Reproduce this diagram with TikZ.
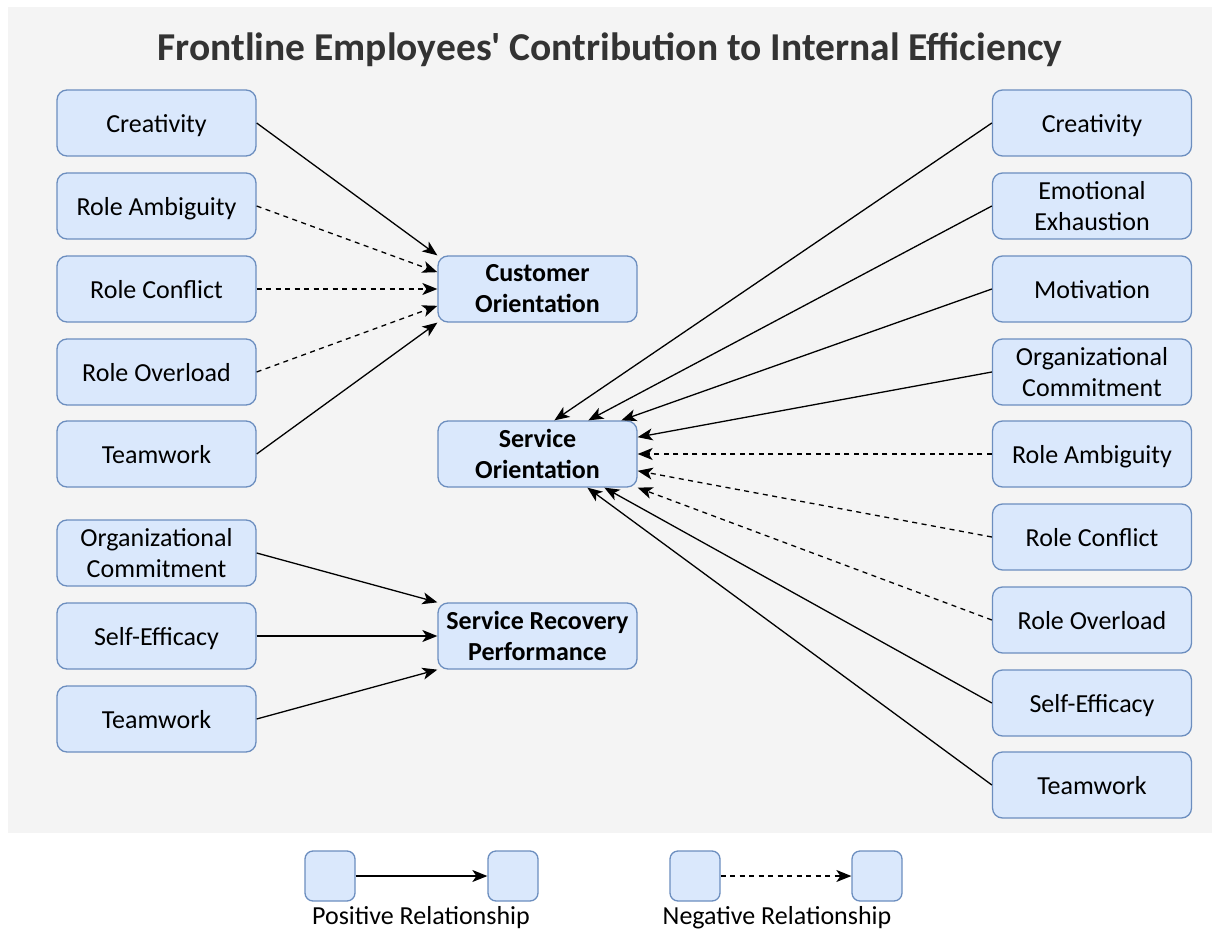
\documentclass[tikz,border=0pt]{standalone}
\usepackage{fontspec}
\setmainfont{Carlito}
\usetikzlibrary{arrows.meta,calc}
\definecolor{panel}{HTML}{F4F4F4}
\definecolor{boxfill}{HTML}{DAE8FC}
\definecolor{boxdraw}{HTML}{6C8EBF}
\definecolor{titlecol}{HTML}{333333}
\tikzset{
  box/.style={draw=boxdraw, fill=boxfill, line width=1.3pt, rounded corners=10pt,
    minimum width=199pt, minimum height=66pt, align=center, inner sep=2pt,
    font=\fontsize{26}{31}\selectfont},
  single/.style={box, text height=19pt, text depth=0pt},
  midbox/.style={box, font=\fontsize{26}{31}\selectfont\bfseries},
  legbox/.style={draw=boxdraw, fill=boxfill, line width=1.3pt, rounded corners=8pt,
    minimum width=50pt, minimum height=50pt, inner sep=0pt},
  posarrow/.style={line width=1.3pt, -{Stealth[length=15pt,width=12pt,inset=4pt]}},
  negarrow/.style={posarrow, dash pattern=on 5pt off 4.5pt},
  leglabel/.style={font=\fontsize{26}{30}\selectfont, inner sep=0pt}
}
\begin{document}
\begin{tikzpicture}[x=1pt,y=-1pt]
\useasboundingbox (0,0) rectangle (1212,933);
\fill[panel] (8,7) rectangle (1212,833);
\node[font=\fontsize{39.5}{44}\selectfont\bfseries, text=titlecol] (title) at (610,50) {Frontline Employees\textquotesingle\ Contribution to Internal Efficiency};

% left column
\node[single] (l1) at (156.5,123) {Creativity};
\node[single] (l2) at (156.5,206) {Role Ambiguity};
\node[single] (l3) at (156.5,289) {Role Conflict};
\node[single] (l4) at (156.5,372) {Role Overload};
\node[single] (l5) at (156.5,454) {Teamwork};
\node[box] (l6) at (156.5,553) {Organizational\\Commitment};
\node[single] (l7) at (156.5,636) {Self-Efficacy};
\node[single] (l8) at (156.5,719) {Teamwork};

% middle column
\node[midbox] (co) at (537.5,289) {Customer\\Orientation};
\node[midbox] (so) at (537.5,454) {Service\\Orientation};
\node[midbox] (srp) at (537.5,636) {Service Recovery\\Performance};

% right column
\node[single] (r1) at (1092,123) {Creativity};
\node[box] (r2) at (1092,206) {Emotional\\Exhaustion};
\node[single] (r3) at (1092,289) {Motivation};
\node[box] (r4) at (1092,372) {Organizational\\Commitment};
\node[single] (r5) at (1092,454) {Role Ambiguity};
\node[single] (r6) at (1092,537) {Role Conflict};
\node[single] (r7) at (1092,620) {Role Overload};
\node[single] (r8) at (1092,703) {Self-Efficacy};
\node[single] (r9) at (1092,785) {Teamwork};

% to Customer Orientation
\draw[posarrow] (l1.east) -- (co.north west);
\draw[negarrow] (l2.east) -- ($(co.north west)!0.25!(co.south west)$);
\draw[negarrow] (l3.east) -- (co.west);
\draw[negarrow] (l4.east) -- ($(co.north west)!0.75!(co.south west)$);
\draw[posarrow] (l5.east) -- (co.south west);

% to Service Recovery Performance
\draw[posarrow] (l6.east) -- (srp.north west);
\draw[posarrow] (l7.east) -- (srp.west);
\draw[posarrow] (l8.east) -- (srp.south west);

% to Service Orientation
\draw[posarrow] (r1.west) -- ($(so.north west)+(117,0)$);
\draw[posarrow] (r2.west) -- ($(so.north west)+(151,0)$);
\draw[posarrow] (r3.west) -- ($(so.north west)+(184,0)$);
\draw[posarrow] (r4.west) -- ($(so.north east)!0.25!(so.south east)$);
\draw[negarrow] (r5.west) -- (so.east);
\draw[negarrow] (r6.west) -- ($(so.north east)!0.75!(so.south east)$);
\draw[negarrow] (r7.west) -- (so.south east);
\draw[posarrow] (r8.west) -- ($(so.south west)+(167,0)$);
\draw[posarrow] (r9.west) -- ($(so.south west)+(150,0)$);

% legend
\node[legbox] (a1) at (330,876) {};
\node[legbox] (a2) at (513,876) {};
\node[legbox] (b1) at (695,876) {};
\node[legbox] (b2) at (877,876) {};
\draw[posarrow] (a1.east) -- (a2.west);
\draw[negarrow] (b1.east) -- (b2.west);
\node[leglabel] (pl) at (421,918) {Positive Relationship};
\node[leglabel] (nl) at (777,918) {Negative Relationship};
\end{tikzpicture}
\end{document}
